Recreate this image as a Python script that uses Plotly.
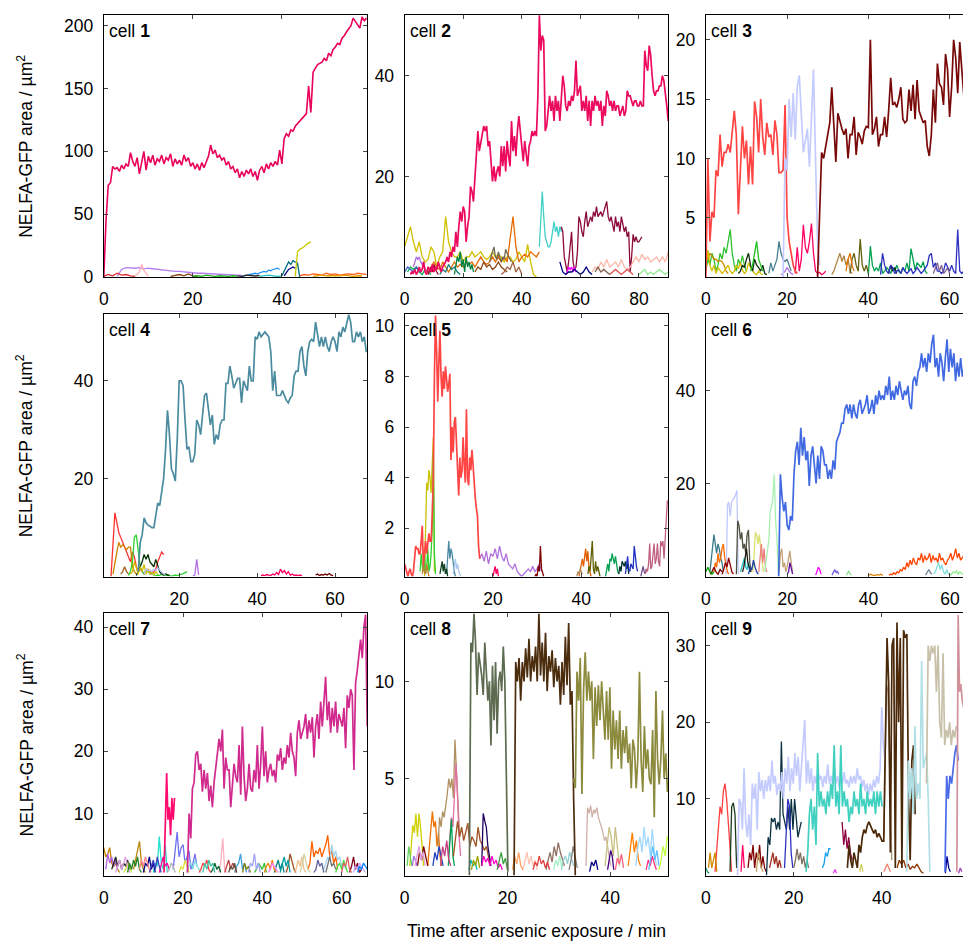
import numpy as np
import plotly.graph_objects as go

# ===================== DATA =====================
# each trace: start time (min), sampling step (min), values (um^2)

# ---- cell 1 ----
c1_main_t0, c1_main_dt = 0, 0.5
c1_main = [
 0, 45, 73, 75, 88, 86, 87, 84, 89, 86,
 90, 88, 99, 92, 88, 95, 82, 90, 100, 85,
 96, 91, 97, 89, 94, 92, 97, 90, 95, 93,
 98, 88, 94, 90, 93, 89, 97, 92, 95, 88,
 91, 86, 90, 85, 91, 87, 92, 96, 105, 98,
 101, 95, 97, 93, 95, 89, 92, 86, 88, 83,
 86, 79, 84, 80, 85, 82, 86, 80, 84, 77,
 85, 88, 83, 90, 86, 91, 88, 92, 89, 101,
 90, 110, 114, 112, 117, 116, 120, 122, 124, 126,
 128, 130, 152, 131, 163, 166, 169, 170, 171, 174,
 172, 178, 176, 181, 183, 186, 185, 190, 192, 195,
 198, 200, 206, 203, 201, 198, 207, 204, 206]
c1_small = [
 [0.5, 6, 7.5, 7, 7, 7.5, 6.5, 7, 6.5, 6, 5.5, 5, 5, 4.5, 4.5, 4, 3.5, 3.5, 3, 3, 2.8, 2.5, 2.5, 2.2, 2, 2, 1.8, 1.5, 1.2],
 [1, 2, 4, 10, 5, 3, 1],
 [0.5, 1, 1.5, 2, 2, 2.5, 3, 2.5, 3.5, 4, 4.5, 4, 5.5, 5, 6, 6.5, 7, 6],
 [1, 5, 9, 12, 10, 13, 12, 11, 0],
 [1, 4, 6, 7, 8, 7],
 [0.5, 20, 22, 23, 24, 26, 27, 28],
 [1, 2, 1.5, 2.5, 2, 1.5, 3, 2, 2.5, 1.5, 2, 2.5, 2, 3, 2.5, 2],
 [0.5, 1.5, 2, 1, 2.5, 1, 0.5],
 [0.5, 1, 0.5, 1.5, 1, 0.5, 1, 0.8, 0.5, 1, 0.5],
 [0.5, 2, 1, 3, 1.5, 2, 1, 0.5],
 [1, 0.5, 1.5, 1, 0.8, 1.2],
 [0.5, 1, 1.5, 1, 0.5, 1],
 [0.5, 1, 1.5, 1, 0.8, 1.2, 1, 1.5, 1, 0.5, 1, 0.8]]
c1_small_t0 = [3, 7, 31, 40, 40.5, 43, 44, 15, 20, 0, 30, 35, 47]
c1_small_dt = [1, 0.5, 0.5, 0.5, 0.5, 0.5, 1, 1, 1, 1, 1, 1, 1]

# ---- cell 2 ----
c2_main_t0, c2_main_dt = 2, 0.5
c2_main = [
 0.5, 1, 0.8, 1.5, 0.5, 1, 2, 1, 1.5, 3,
 1, 0.5, 2, 1.5, 1, 2.5, 1, 2, 1.5, 3,
 2, 1, 2, 2.5, 3, 4, 3, 5, 4, 6,
 5, 9, 6, 10, 13, 11, 14, 13, 7, 10,
 12, 18, 17, 15, 20, 24, 29, 25, 27, 29,
 30, 29, 30, 26, 27, 23, 19, 22, 19, 21,
 22, 20, 26, 22, 26, 21, 27, 24, 22, 31,
 25, 28, 24, 29, 32, 29, 26, 23, 27, 24,
 22, 26, 27, 29, 28, 29, 28, 36, 52, 45,
 48, 47, 29, 30, 33, 36, 33, 35, 31, 36,
 33, 35, 31, 36, 40, 38, 34, 33, 35, 34,
 36, 35, 37, 43, 36, 37, 38, 33, 35, 33,
 36, 31, 35, 30, 35, 33, 36, 34, 35, 33,
 35, 30, 34, 32, 37, 36, 34, 35, 33, 35,
 33, 34, 34, 32, 33, 34, 32, 33, 37, 36,
 36, 35, 34, 35, 35, 34, 34, 35, 34, 34,
 45, 42, 41, 46, 44, 40, 37, 36, 37, 37,
 38, 38, 40, 39, 37, 34, 31]
c2_small = [
 [6, 8, 10, 7, 5, 7, 4, 3, 3.5, 6, 5, 2, 4, 5, 12, 7, 5, 4, 4, 5, 3, 4, 4, 5, 4, 4.5, 5, 4, 3.5, 4, 5, 4, 4.5, 4, 3, 4, 4, 3, 3.5, 5, 4, 3, 6.5, 3, 0.5, 0],
 [1, 2, 3, 2, 1.5, 3, 2, 1, 2, 3, 2, 2.5, 2, 3, 2.5, 3, 2, 3, 4, 3, 2.5, 3, 4, 3, 4, 3, 4, 3, 7, 12, 6, 3, 4, 4.5, 4, 5, 4.5, 4, 5],
 [0.5, 2, 4, 3, 5, 2, 3.5, 1, 4, 2, 3, 1.5, 2.5, 1],
 [1, 2, 1.5, 2, 1, 0.5, 1.5, 1, 0.5],
 [2, 3, 4, 3.5, 4, 3, 2.5, 3, 1.5, 1],
 [3, 4, 5, 6, 4, 3.5, 5, 4, 3, 4, 3.5, 5.5, 4.5, 4, 3.5, 3],
 [1, 2, 1.5, 3, 2, 2.5, 1.5, 2, 3, 2, 1.5, 1],
 [0.5, 1.5, 2, 1, 2.5, 1.5, 1, 0.5],
 [6, 12, 17, 12, 8, 7, 6, 6, 7, 9, 11, 9, 10, 8, 10, 9],
 [10, 9, 4, 2, 1, 3, 6, 9, 3, 1.5, 2, 5, 12, 11, 9, 8, 11, 13, 10, 11, 12, 11, 13, 12, 14, 12, 12.5, 13, 12, 13, 14, 15, 12, 11, 12, 10, 9, 12, 10, 11, 9, 12, 10, 9, 10, 8, 9, 1, 4, 8.5, 7, 8, 7, 7, 7.5, 8],
 [1, 2, 1.5, 3, 2, 3.5, 2, 2.5, 3, 2, 3.5, 2, 1.5, 2, 3, 4, 3, 4.5, 3.5, 4, 3, 3.5, 4, 3, 4, 3, 5],
 [0.5, 1, 1.5, 0.5, 1, 0.5, 1, 1.5, 1, 0.5, 1],
 [0.5, 1, 2, 1.5, 2, 1, 2, 1],
 [3, 1, 0.5, 1, 1, 1.5, 1, 0.5, 1, 2, 1, 0.5],
 [0.5, 1, 1.5, 1, 0.5, 1, 1.5, 1, 0.5],
 [1, 2, 1.5, 1, 2, 1],
 [1, 2, 1, 1.5, 1, 0.5],
 [0.5, 1.5, 1, 2.5, 1.5, 2, 1, 0.5],
 [0.5, 1, 2, 1.5, 3, 1, 2, 0.5]]
c2_small_t0 = [0, 8, 17, 1, 3, 29, 24, 8, 46, 53.5, 64, 80, 55, 53, 70, 0, 65, 12, 33]
c2_small_dt = [1, 1, 0.5, 1, 0.5, 0.5, 1, 0.5, 0.5, 0.5, 1, 1, 0.5, 1, 1, 1, 1, 1, 1]

# ---- cell 3 ----
c3_red_t0, c3_red_dt = 0, 0.5
c3_red = [
 0, 10, 3, 5.5, 5, 9, 8.5, 12, 9.3, 10.5,
 10.5, 11.2, 10.5, 12, 14, 12, 5.3, 9, 12.7, 10,
 11.5, 7.8, 11, 7.8, 14.8, 13.5, 10.5, 15, 11.8, 10.3,
 13, 11.8, 12, 10.3, 13.2, 12, 8.8, 8.8, 9, 14.5,
 5, 3, 2, 1, 0.5, 0.3]
c3_lav_t0, c3_lav_dt = 19, 0.5
c3_lav = [0, 10, 9, 15, 11.8, 15.5, 11.6, 16, 17, 14, 10.5, 11.5, 12.5, 9.3, 13, 17.5, 10, 3, 1]
c3_mar_t0, c3_mar_dt = 27.5, 0.5
c3_mar = [
 0, 5, 10.5, 10, 11,
 12, 13, 16, 13, 9.7, 13.8, 13, 12.5, 12, 12.5,
 10, 12, 12, 13.5, 10.3, 12.2, 11.8, 11.2, 12.3, 12.7,
 12.6, 20, 12, 12.5, 13.5, 11, 12, 12, 13.5, 11.8,
 14, 16.8, 14.5, 14.7, 14.3, 15, 16, 13.3, 13, 13.2,
 15.8, 14, 16.2, 13.3, 16.6, 14, 13.5, 13, 13.2, 11,
 10.2, 12, 15.8, 13, 18, 16.3, 16, 14.5, 18.8, 17.5,
 13.5, 16, 20, 18.5, 15.5, 19.8, 17.5, 15.3, 16, 17]
c3_small = [
 [0.5, 1.5, 1, 2, 1.5, 0.5, 1, 2, 1.5, 2.5, 2, 3, 4, 2, 1, 0.5, 1.5, 1, 1.8, 1, 0.5],
 [2, 1.5, 2, 1.8, 1.5, 1.5, 1.3, 1.4, 1.3, 1, 0.5, 0.3],
 [1, 2.3, 1, 0.5, 1, 0.3, 0.8, 0.5, 0.3, 0.5, 0.8, 1, 0.5, 0.3, 0.5, 1, 0.7, 1.2, 0.6, 0.3, 0.5, 1.2, 0.8, 0.5, 0.3, 0.2, 0.5, 0.3, 0.2],
 [0.3, 0.5, 1, 0.8, 1.5, 2, 1, 0.5, 1.5, 1, 0.8, 0.5, 1, 0.3, 0.2],
 [0.5, 1, 2, 3, 1.5, 1, 0.5],
 [0.3, 1.2, 0.5, 1, 1.5, 3, 2, 1.5, 1.3, 1.5, 1, 0.5],
 [0.2, 0.3, 0.5, 0.8, 0.5, 0.3, 0.2],
 [0.3, 2.5, 0.5, 1.5, 4.4, 2.5, 2, 3, 4.5, 2, 0.5, 0.3, 0.4, 0.2, 0.3, 0.5],
 [0.2, 0.5, 1, 1.5, 2, 1.3, 1.8, 1, 1.5, 0.5, 0.3],
 [0.3, 1.5, 2, 1, 0.5, 3.2, 1, 0.5, 1, 0.3],
 [0.5, 1.5, 2, 1, 0.5],
 [0.2, 2.6, 1, 0.5, 0.8, 0.5, 1.2, 0.3, 0.5, 0.8, 0.6, 0.3, 0.8, 0.5, 1, 0.5, 0.3, 0.8, 0.5, 1.2, 0.5, 2.4, 1.5, 0.6, 1.2, 1, 0.8, 1.3, 0.5, 0.3],
 [0.3, 1, 0.5, 0.8, 0.3],
 [0.2, 2, 1, 0.5, 0.3, 1, 0.8, 0.3, 0.5, 0.6, 0.3, 0.8, 0.5, 0.3, 0.5, 0.7, 0.3, 0.5, 0.8, 0.5, 0.3, 0.5, 0.8, 1, 1.8, 2, 0.8, 1.2, 0.5, 0.5, 0.3, 0.5, 1.2, 0.8, 0.5, 1, 0.5, 0.3, 4, 0.5, 0.3, 0.5, 0.3, 0.2],
 [0.3, 0.8, 1.2, 0.5, 1, 0.3, 0.5, 0.8, 0.3]]
c3_small_t0 = [0, 0, 0, 8, 11, 15.5, 18.5, 22, 31, 35.5, 34.5, 40, 45, 43, 56]
c3_small_dt = [0.5] * 15

# ---- cell 4 ----
c4_main_t0, c4_main_dt = 9.5, 0.5
c4_main = [
 1, 7, 8.5, 12, 11, 10.5, 10.3, 10, 10, 13,
 15, 14.5, 17, 20, 26, 34, 29, 22, 21, 19.5,
 28, 40, 40, 39, 32, 26, 26.5, 23.5, 23.5, 25,
 32, 31, 29, 33, 37, 37.5, 34, 31, 33, 27,
 29, 28, 31, 32, 32, 39.5, 39.5, 43, 41, 38.5,
 39.5, 40.5, 40.5, 35.5, 40, 39, 38, 43, 40, 40,
 49, 48.5, 50, 49, 49.5, 50, 49.5, 49, 46, 38,
 42, 37, 37, 37, 38, 37, 36, 35.5, 36.5, 37,
 41, 42, 42, 46, 47, 43, 41, 46, 48, 48.5,
 48, 52, 49, 47, 49, 47, 49, 47, 46, 48,
 49, 48, 46, 50, 49, 51, 50, 52, 53.5, 52,
 48, 48, 50, 49, 50, 48, 49, 46, 46]
c4_small = [
 [0, 6, 13, 11, 9, 8, 7, 6, 5, 4, 3, 5, 4, 2, 1, 1.5, 1, 0.5, 1, 1.5, 1, 0.5, 1, 1.5, 3, 4, 5, 4.5],
 [0.5, 3, 5, 7, 6, 6.5, 6, 5.5, 6, 6, 2, 1, 0.5],
 [0.2, 1, 3, 8, 8.5, 5, 2, 1, 0.5, 1.5, 1, 0.5, 0.8, 0.3, 0.2, 0.3, 0.2, 0.5, 0.3, 0.2, 0.3, 0.2, 0.1, 0.2, 0.3, 0.2, 0.3, 0.5, 0.6, 0.8, 1],
 [0.2, 1, 2, 3, 4.5, 3.5, 4.5, 3, 2.5, 2, 3.5, 2, 1, 0.5, 0.3, 0.5, 0.3, 0.2],
 [0.5, 1, 3, 1.5, 0.5, 2, 1, 2.5, 0.5, 1.5, 0.5, 1, 0.3, 1, 0.5],
 [0.5, 1.5, 1.2, 1.3, 1, 1.5, 1.2, 1.8, 1.3, 0.8, 0.5, 0.3],
 [0.1, 0.3, 3.5, 0.3],
 [0.2, 0.3, 0.2, 0.4, 0.3, 0.2, 0.5, 0.3, 0.8, 0.4, 1.5, 0.8, 1.2, 0.5, 1, 0.3, 0.5, 0.2, 0.3, 0.2, 0.3, 0.2],
 [0.3, 0.5, 0.2, 0.4, 0.3, 0.5, 0.3, 0.6, 0.3, 0.2],
 [0.5, 1, 2, 1, 0.5]]
c4_small_t0 = [2.5, 3, 7, 9, 7.5, 11, 23.5, 41, 55, 5]
c4_small_dt = [0.5] * 10

# ---- cell 5 ----
c5_main_t0, c5_main_dt = 0, 0.25
c5_main = [
 0.6, 0.4, 0.2, 0.1, 0.3, 0.4, 0.2, 0.1, 0.3, 0.8,
 1.3, 1.2, 1.2, 1.0, 1.0, 1.5, 2.1, 0.5, 1.0, 1.5,
 1.0, 1.3, 1.8, 1.5, 1.5, 2.5, 4.0, 8.0, 10.4, 9.0,
 7.0, 8.5, 9.8, 8.0, 7.2, 8.2, 7.5, 8.4, 7.8, 7.4,
 7.7, 8.1, 4.7, 6.0, 5.0, 6.2, 6.4, 5.5, 4.5, 3.3,
 4.8, 4.0, 4.3, 5.6, 4.5, 3.8, 6.7, 4.0, 3.7, 4.8,
 4.3, 5.1, 4.5, 3.7, 3.2, 2.8, 2.5, 1.3, 0.8]
c5_small = [
 [0.8, 1, 0.7, 1.1, 0.6, 1, 0.9, 1.2, 0.8, 1.3, 0.9, 0.7, 1, 0.6, 0.5, 0.4, 0.6, 0.3, 0.2, 0.1, 0.2, 0.3, 0.4, 0.3, 0.5, 0.3, 0.4, 0.6, 0.3],
 [0.1, 1.5, 3.8, 3.5, 4.3, 4.0, 3.4, 4.5, 5.6, 0.3],
 [0.3, 1.0, 0.5, 0.3, 1.0, 0.2, 0.5, 1.2, 0.3, 0.5, 1.0, 2.0, 5.0, 1.0, 0.2],
 [0.2, 0.8, 1.5, 0.8, 1.2, 1.0, 0.5, 0.3, 0.1],
 [0.2, 0.5, 0.8, 0.4, 0.6, 0.3, 0.2, 0.1],
 [0.2, 0.5, 0.7, 0.3, 0.6, 0.2, 0.4, 0.1],
 [0.2, 0.5, 0.3, 0.2, 0.6, 0.3, 0.1],
 [0.1, 0.3, 0.5, 0.2, 0.4, 0.1],
 [0.1, 0.2, 0.1, 0.5, 0.3, 1.3, 0.4, 0.2, 0.1],
 [0.1, 0.3, 0.6, 0.8, 0.5, 1.0, 1.2, 0.7, 1.1, 0.4, 0.2, 0.1],
 [0.2, 0.5, 0.3, 1.0, 1.5, 0.4, 0.2, 0.7, 0.3, 0.5, 0.2, 0.1],
 [0.1, 0.3, 0.2, 0.4, 0.3, 0.2],
 [0.1, 0.3, 0.6, 0.3, 0.8, 0.7, 1.0, 0.8, 0.6, 0.9, 0.5, 0.3, 0.2],
 [0.2, 0.5, 0.3, 0.7, 0.6, 0.5, 0.7, 0.4, 0.6, 0.2],
 [0.2, 0.5, 0.9, 0.4, 0.3, 0.6, 0.5, 0.4, 1.3, 0.8, 0.5, 0.3],
 [0.1, 0.3, 0.5, 0.3, 0.2, 0.4],
 [0.2, 0.4, 0.3, 0.6, 1.4, 0.4, 0.5, 0.9, 1.4, 0.6, 0.8, 1.4, 0.7, 0.5, 1.5, 1.3, 1.5, 0.8, 1.6, 2.2, 3.1]]
c5_small_t0 = [17, 4.5, 3.5, 9.5, 11, 8, 4, 20, 29.5, 39.5, 41.5, 39, 45.5, 48.5, 50, 53.5, 54.5]
c5_small_dt = [0.5] + [0.25] * 16

# ---- cell 6 ----
c6_main_t0, c6_main_dt = 17.9, 0.418
c6_main = [
 0, 22, 17, 14, 16, 11, 10, 13, 12, 22,
 27, 29, 24, 32, 26, 30, 25, 27, 19.5, 26,
 28, 23, 20, 26, 21, 28, 27, 24, 24, 21,
 23, 21, 25, 23, 29, 30, 31, 33, 33, 36,
 37, 35, 37, 34, 37, 35, 34, 37, 38, 35,
 36, 37, 39, 35, 36, 38, 35, 39, 37, 40,
 38, 39, 38, 41, 39, 43, 38, 40, 38, 41,
 39, 42, 40, 38, 40, 39, 41, 37, 36, 42,
 43, 41, 44, 45, 48, 45, 47, 44, 48, 46,
 50, 52, 45, 47, 43, 48, 46, 42, 47, 51,
 44, 49, 45, 48, 42, 46, 43, 47, 43, 45,
 44, 47, 43, 45]
c6_small = [
 [0.5, 15.5, 16, 13, 16, 16.5, 17, 17.5, 18.5, 0.5],
 [1, 4, 6, 9, 7, 5, 7, 6, 4, 3, 1],
 [1, 3, 2, 5, 3, 4, 6, 7, 4, 2, 1, 0.5],
 [0.5, 12, 11, 8, 9.5, 6, 7, 5, 9, 10, 3, 1],
 [1, 4, 9.5, 9, 7, 9, 6, 3, 1],
 [1, 5, 7, 3, 6, 2, 1],
 [1, 3, 6, 8, 14, 15, 17, 22, 12, 8, 1, 0.5],
 [1, 5, 6, 2, 3, 1, 2, 4, 5.5, 3, 1],
 [1, 2, 3, 4, 2, 1.5, 3, 1],
 [1, 2, 4, 6, 3, 2, 1],
 [0.5, 1, 3, 1.5, 0.5],
 [0.3, 1, 2, 1.5, 0.5],
 [0.3, 1, 1.5, 0.8, 1.2, 0.5],
 [0.3, 0.8, 1.2, 0.5, 0.3],
 [0.3, 0.5, 0.4, 0.8, 0.5, 1, 0.8, 1.5, 1.2, 2, 1.5, 3, 2, 3.5, 2.5, 4, 3, 2.5, 4, 3.5, 5, 3, 4.5, 3.5, 4, 5, 3, 4.5, 3.5, 4, 3, 5, 3.5, 4, 3, 2.5, 3.5, 4, 5, 3.5, 4.5, 6, 4, 5, 3.5, 4, 4.5, 3.5, 5, 4],
 [0.5, 1, 2, 3, 1.5, 2.5, 1, 0.5, 1.5, 0.5],
 [0.3, 0.8, 1.5, 0.8, 0.5],
 [0.3, 0.5, 1, 0.8, 1.2, 0.5, 1, 0.8, 0.5, 1],
 [0.5, 1, 2, 1, 0.5, 1.5, 1],
 [1, 2, 1, 0.5, 1],
 [0.2, 0.5, 0.3, 0.2, 0.4, 0.3, 0.5, 0.2],
 [0.5, 1.5, 3, 2, 4, 2.5, 1, 0.5],
 [0.5, 2, 1.5, 3.5, 2, 1, 0.5]]
c6_small_t0 = [5, 1, 2, 7.5, 11.5, 13, 14.5, 18, 8.5, 9, 20, 27, 31, 34.5, 45, 56, 54, 60, 1, 0, 40, 4, 10.5]
c6_small_dt = [0.33] * 14 + [0.4, 0.4, 0.4, 0.4, 0.5, 0.5, 0.5, 0.4, 0.4]

# ---- cell 7 ----
c7_main_t0, c7_main_dt = 21.1, 0.42
c7_main = [
 0.5, 10, 6, 14, 15, 19.5, 20, 17, 18, 13.5,
 17, 14, 16.5, 12, 14.5, 11, 15, 17.5, 19, 22,
 20, 23.5, 14, 19, 17, 17, 11, 15, 18, 16,
 15, 21, 13, 24, 16, 12, 14, 18, 14, 13.5,
 17, 15, 21, 14, 18, 24, 16, 20, 15, 17,
 18, 16, 17, 15, 19.5, 18.5, 20.5, 17, 19, 18,
 21, 19, 23, 20, 19, 16, 23, 25, 22, 23,
 24, 26, 22, 25, 23, 25.5, 19, 24, 26, 22,
 28, 24, 29, 32, 25, 28, 23, 27, 24, 28,
 23, 26, 25, 24, 27, 20.5, 29, 27, 30, 29,
 17, 31, 33, 36, 38, 35, 40, 42, 24]
c7_pink_t0, c7_pink_dt = 15.2, 0.33
c7_pink = [0.5, 8, 16.5, 9, 11, 6.5, 12.5, 9, 12.5]
c7_small = [
 [4.5, 3, 3.5, 4.5, 2, 1.5, 2, 1, 0.5],
 [1, 2.5, 3.5, 5.5, 2, 1, 0.5],
 [1, 3.5, 2, 3, 1.5, 2.5, 1],
 [1, 2, 3, 1.5, 2.5, 1, 2, 1.5, 2.5, 1],
 [0.5, 2, 1.5, 6.3, 2, 1, 5, 0.5],
 [1, 4, 7, 3, 4.5, 5, 2, 3, 4, 1, 2, 3.5, 1.5],
 [0.5, 2, 6, 1, 0.5],
 [1, 2, 5.5, 3, 4, 3.5, 4.5, 3, 4, 5, 6.5, 3, 4, 2, 3, 1],
 [1, 2, 3, 2.5, 5, 3, 4, 2.5, 3, 1.5, 2, 1],
 [0.5, 2, 1.5, 3, 1, 2, 0.5],
 [0.5, 2, 3, 1.5, 2, 1],
 [0.5, 1.5, 2, 1, 2.5, 1.5, 1, 0.5],
 [0.5, 2, 3, 1.5, 2, 1],
 [0.5, 1, 2, 1.5, 1, 2, 0.5],
 [0.5, 1, 2, 1.5, 0.5],
 [0.5, 1.5, 2.5, 1, 2, 0.5],
 [0.5, 1.5, 3.5, 2, 1, 0.5],
 [0.5, 1.5, 2, 3.5, 1, 2, 0.5],
 [0.5, 1.5, 3, 1, 2, 0.5, 1],
 [0.5, 1, 2, 1.5, 2.5, 1, 0.5],
 [0.5, 1, 2.5, 1.5, 3, 1, 0.5],
 [0.5, 1.5, 1, 2, 1.5, 1, 0.5],
 [0.5, 1, 2, 1, 1.5, 0.5],
 [0.5, 2, 1, 1.5, 0.5],
 [0.5, 1.5, 2.5, 1, 2, 3, 1.5, 0.5],
 [0.5, 2, 1, 2.5, 1.5, 3, 1, 0.5],
 [1, 2.5, 1.5, 3, 2, 1, 0.5],
 [0.5, 1.5, 2.5, 1, 3, 1.5, 0.5],
 [0.5, 1.5, 1, 2.5, 1.5, 0.5],
 [0.5, 2, 1, 2.5, 1.5, 2, 0.5],
 [0.5, 1.5, 2.5, 1, 2, 1.5, 0.5],
 [0.5, 2, 1.5, 3.5, 1, 2, 0.5],
 [0.5, 1.5, 2, 1, 2.5, 1, 0.5],
 [0.5, 2, 3, 1.5, 2.5, 0.5],
 [0.5, 1.5, 3.5, 2, 1, 0.5],
 [0.5, 1, 2.5, 1.5, 2, 0.5],
 [0.5, 1.5, 2, 1, 2.5, 1.5, 0.5],
 [0.5, 2, 1.5, 3, 1, 0.5],
 [0.5, 1.5, 1, 2, 1.5, 1, 0.5],
 [0.5, 1, 2, 1.5, 0.5],
 [0.5, 1, 2, 1.5, 1, 0.5],
 [0.5, 1.5, 1, 2, 0.5]]
c7_small_t0 = [0, 7.5, 0.5, 2, 12.5, 17.5, 29, 51.5, 55.5, 10, 14, 21, 56, 38, 5, 43, 46, 33, 62, 24, 48, 63, 27, 35,
               3, 6, 9, 11.5, 19, 25, 30.5, 36.5, 40.5, 44.5, 49.5, 53, 58.5, 60, 64, 16, 41.5, 31.5]
c7_small_dt = [0.5] * 42

# ---- cell 8 ----
c8_gray_t0, c8_gray_dt = 12.6, 0.3
c8_gray = [0, 12, 11.5, 13.5, 12, 9.3, 11.5, 11, 10.3, 9.3, 12, 10.5, 9, 10, 6.7, 10.8, 8, 11, 7.3, 10, 10.5, 9.5, 11.8, 10, 5, 0.2]
c8_brown_t0, c8_brown_dt = 21.3, 0.322
c8_brown = [0, 11, 10, 11.2, 9, 11, 10, 11.7, 10.2, 12.2, 10, 11.3, 10.5, 11.8, 10, 13.5, 10.3, 12, 10, 12.5,
            9.5, 11.3, 10.5, 11.6, 9.7, 11.2, 10, 10.8, 8.8, 11, 9.3, 12.3, 9.8, 13, 8.8, 9.5, 4, 0]
c8_olive_t0, c8_olive_dt = 32.9, 0.32
c8_olive = [
 5, 4.5, 10.5, 9, 11.2, 4.2, 9.5, 11.5, 9, 10.5,
 9, 10, 6, 9.7, 7.7, 9.8, 8, 10, 8.5, 7,
 9.5, 7, 9.7, 5.5, 8.5, 6.5, 8, 6, 8.5, 5.5,
 7.5, 6.3, 7.7, 5.8, 6.8, 4.5, 7, 6.5, 4.5, 6,
 10.5, 6, 4.3, 7.7, 5.5, 6.5, 5, 4.7, 7.5, 3,
 9.5, 6, 4.7, 6, 8.5, 5, 6.3, 4.3, 5]
c8_small = [
 [0.5, 1.5, 2.6, 2.2, 3.2, 2, 3.2, 2.5, 1.5, 0.5],
 [0.5, 1.5, 2.2, 3.3, 2.5, 2.8, 1.5, 2.2, 1, 0.5],
 [1.5, 3, 2.5, 3.3, 3, 3.5, 4.2, 5, 4.5, 5, 4, 7, 5.5, 4, 2],
 [1, 2, 3, 2.5, 4, 5.8, 4, 2, 1],
 [0.5, 2, 2.9, 1, 0.5],
 [1, 2, 2.8, 2, 2.5, 1.8, 2.2, 2.7, 1.5, 2, 1.8, 1.5, 2.5, 1.8, 1.6, 1.3, 1.5, 1, 0.5],
 [0.5, 3.2, 2.8, 2.5, 1.5, 1, 0.5],
 [0.5, 1, 0.7, 0.9, 0.5, 1, 0.6, 0.8, 0.4, 0.6, 0.3],
 [0.3, 0.8, 1.2, 0.6, 1, 0.5, 0.8, 0.3],
 [0.3, 0.8, 1.2, 0.7, 1.5, 1, 1.7, 1.2, 0.8, 0.5],
 [0.5, 3.5, 3.2, 3.6, 3, 3.4, 3.2, 3.5, 3, 2.8, 2.5, 2.2, 1.8, 2, 1.5, 1, 0.5],
 [0.5, 1.5, 2.5, 2, 1, 2.5, 1.5, 0.5],
 [0.2, 0.7, 0.5, 0.8, 0.3],
 [0.5, 1.5, 2.2, 1.2, 1.8, 0.8, 0.5],
 [0.5, 1.5, 2, 1.2, 2.5, 1.5, 2, 1, 2.4, 1.2, 0.5],
 [0.3, 0.8, 1.5, 1, 2, 1.8],
 [0.3, 0.8, 1, 0.6, 1.2, 0.8, 0.5],
 [0.3, 0.8, 1.3, 1, 0.3],
 [0.3, 0.7, 0.5, 1, 0.6, 0.8, 0.4, 0.7, 0.3],
 [0.3, 0.8, 0.5, 0.7, 0.3],
 [0.5, 1.2, 0.8, 1.5, 1, 0.5],
 [0.5, 1.5, 1, 0.5],
 [0.3, 0.8, 0.5, 1, 0.4],
 [0.3, 0.8, 0.5, 1, 0.6, 0.3],
 [0.5, 1, 0.8, 0.5],
 [0.5, 1, 1.5, 0.8, 1.2, 0.5],
 [0.5, 1.2, 0.8, 1.5, 1, 0.5],
 [0.5, 1.5, 1, 1.8, 0.8, 0.5],
 [0.3, 0.8, 1.2, 0.6, 0.9, 0.3],
 [0.3, 1, 0.6, 1.2, 0.5, 0.3],
 [0.3, 0.8, 1.5, 1, 0.4],
 [0.3, 0.9, 0.6, 1.1, 0.4],
 [0.3, 1, 1.5, 0.8, 1.3, 0.5],
 [0.3, 0.8, 0.5, 1, 0.4]]
c8_small_t0 = [1, 4.5, 6.5, 8.5, 8.5, 9.5, 15, 15, 23, 27.5, 35.3, 39, 36, 43.5, 45, 49.5, 30.5, 39.5, 25, 12.5, 2.5, 0.5, 29, 47, 1.5,
               2, 5.5, 7, 18, 21, 32, 41, 47.5, 13]
c8_small_dt = [0.3, 0.3, 0.3, 0.3, 0.3, 0.4, 0.3, 0.4, 0.4, 0.4, 0.3, 0.4, 0.4, 0.4, 0.4, 0.4, 0.4, 0.3, 0.4, 0.4, 0.4, 0.3, 0.4, 0.4, 0.3,
               0.4, 0.4, 0.4, 0.4, 0.4, 0.4, 0.4, 0.4, 0.4]

# ---- cell 9 ----
c9_lav_t0, c9_lav_dt = 7.2, 0.373
c9_lav = [
 0, 10, 9.5, 6, 14, 7, 5, 8, 4, 12,
 10, 12, 6, 13.5, 11, 12.5, 10, 12.5, 11, 13,
 11, 15, 12, 13, 10.5, 12, 11, 13.5, 10, 14,
 12, 15.5, 11, 14, 12, 16, 13, 15.5, 11, 14,
 16, 20.3, 12, 15, 12, 14, 11, 13, 12, 14,
 12.5, 13, 11.5, 13, 12, 14.5, 12, 13, 12, 14,
 12, 13, 11.5, 13, 12, 13.5, 12, 12.5, 11.5, 13,
 12, 13, 12, 14, 12.5, 13, 11.5, 12.5, 11, 12,
 10.5, 12, 11, 12.5, 11.5, 13, 12, 14, 22, 17, 15]
c9_turq_t0, c9_turq_dt = 22.8, 0.376
c9_turq = [
 0.5, 3, 8, 10, 6, 9, 4, 16, 9, 11,
 9, 10, 8, 11, 9, 12, 10, 17, 9, 11,
 8, 17, 9, 11, 9, 10, 7, 9, 8, 11,
 9, 10, 8, 12, 9, 10, 8, 11, 9, 10,
 9, 11, 8, 11, 9, 11, 9]
c9_brown_t0, c9_brown_dt = 32.2, 0.376
c9_brown = [
 1, 4, 2, 1, 3, 2, 1, 4, 3, 5,
 6, 5.5, 6.5, 7, 6.5, 6, 5.5, 6, 5, 5.5,
 5, 4.5, 4.5, 20, 31, 25, 3, 30, 31, 1,
 33, 20, 31, 1, 32, 31, 31.5, 10, 2, 15,
 17, 8]
c9_cyan_t0, c9_cyan_dt = 45.7, 0.376
c9_cyan = [0.5, 15, 10, 14, 8, 19.5, 10, 12, 10, 28, 14, 15, 16, 10, 0.5]
c9_khaki_t0, c9_khaki_dt = 50.2, 0.376
c9_khaki = [12, 30, 28, 30, 29, 30, 24, 30, 20, 18, 29, 17, 19, 18, 20, 17, 19, 18, 19.5]
c9_blue_t0, c9_blue_dt = 54.4, 0.376
c9_blue = [0.5, 13, 10, 13, 12, 14, 16, 17, 15]
c9_rose_t0, c9_rose_dt = 57.1, 0.3
c9_rose = [0.5, 34, 24, 25, 23, 22]
c9_small = [
 [5, 15, 25, 24, 15, 8, 2],
 [0.5, 3, 6, 9, 8, 11, 12, 10, 7, 3, 0.5],
 [0.5, 9, 9.5, 8, 1],
 [1, 3, 1, 2, 3, 0.5],
 [0.5, 4, 1],
 [1, 3, 2, 4, 1, 3, 2, 4, 1, 2.5, 1, 0.5],
 [0.5, 3, 2, 1, 0.5],
 [0, 5, 4, 7.5, 7, 7.5, 6, 7, 6, 17.5, 8, 7, 6, 9, 6, 10, 6, 10, 7, 5, 6, 7],
 [1, 6, 10, 9, 3, 1],
 [1, 2, 3, 1.5, 2.5, 1, 2, 1],
 [1, 2, 3.5, 2, 3, 1.5, 2.5, 1, 2, 1],
 [1, 1.5, 3, 2.5, 3.5, 3.5],
 [7, 4, 6, 3.5, 5, 3, 2],
 [0.5, 1.5, 0.5],
 [1, 2, 1.5, 2, 1, 1.5, 0.8, 1.2, 1, 1.5, 1, 0.5, 0.3],
 [0.5, 1, 1.5, 1, 0.5],
 [0.3, 2.5, 1, 0.5],
 [1, 0.5, 0.3],
 [0.3, 1, 0.5],
 [0.3, 0.8, 0.3]]
c9_small_t0 = [40.5, 2.1, 5.5, 0.6, 8, 9.6, 11.5, 13.8, 17.9, 14.5, 20, 26.5, 31, 35, 43.5, 40.5, 54.5, 0, 57.5, 29]
c9_small_dt = [0.3] + [0.376] * 13 + [0.5] + [0.376] * 5

# tick labels / axis ranges per panel
x_ticks = [[0, 20, 40], [0, 20, 40, 60, 80], [0, 20, 40, 60],
           [20, 40, 60], [0, 20, 40], [0, 20, 40, 60],
           [0, 20, 40, 60], [0, 20, 40], [0, 20, 40]]
y_ticks = [[0, 50, 100, 150, 200], [20, 40], [5, 10, 15, 20],
           [20, 40], [2, 4, 6, 8, 10], [20, 40],
           [10, 20, 30, 40], [5, 10], [10, 20, 30]]
x_ranges = [[0, 59.2], [0, 90], [0, 63.3], [0.65, 68.3], [0, 59.7], [0, 63.2],
            [0, 66.5], [0, 51.3], [0, 58.5]]
y_ranges = [[0, 208.6], [0, 52.1], [0, 22.1], [0, 53.6], [0.1, 10.45], [0, 56.4],
            [0, 42.2], [0, 13.5], [0, 34.2]]

# ===================== STYLES =====================
c1_col = ["#b57ef0", "#ffb0b8", "#1e8ff0", "#006a80", "#00008b", "#c8c800", "#ff6020",
          "#8b4513", "#20b020", "#e03030", "#303030", "#20c0c0", "#e0a000"]
c2_col = ["#d0c000", "#e86a00", "#008040", "#00b050", "#b070e0", "#706a50", "#8b4513", "#a00020",
          "#40d0c8", "#8b0a3a", "#ffb8a8", "#90ee90", "#ff00ff", "#000080", "#e05050", "#4060c0", "#806050",
          "#1a7a7a", "#a06040"]
c3_col = ["#30c030", "#d08800", "#d0c000", "#103010", "#20c020", "#4a8090", "#b070e0", "#ff0060",
          "#b08040", "#606010", "#e07000", "#00a050", "#102020", "#2a30c0", "#806090"]
c4_col = ["#ff3030", "#d08000", "#30d030", "#003000", "#d0c000", "#b8c0ff", "#b070e0", "#ff0060",
          "#700000", "#a06020"]
c5_col = ["#b070e0", "#c8c000", "#30d030", "#4a8aa0", "#a8c8f0", "#104020", "#c08030", "#ff0060",
          "#800000", "#e06000", "#606000", "#b09060", "#00a050", "#003030", "#2030c0", "#705090", "#c06080"]
c6_col = ["#c0c8ff", "#3a7a8a", "#ff6a00", "#505040", "#d8e070", "#f08080", "#a8f0b0", "#c0a070",
          "#20c0c0", "#201810", "#6010a0", "#ff00ff", "#7060e0", "#90e090", "#ff4500", "#80e0e0",
          "#708090", "#90ee90", "#800000", "#00a000", "#e08000", "#8b0000", "#2040a0"]
c7_col = ["#c08000", "#b8860b", "#b060e0", "#202020", "#20e0d0", "#7070f0", "#ffb0c0", "#ff6000",
          "#a0d0f0", "#000080", "#ff00a0", "#80e0e0", "#707070", "#30c030", "#c0e040", "#008080",
          "#a05020", "#40a0e0", "#800020", "#ff4040", "#f0c090", "#c8a0f0", "#006030", "#808000",
          "#e0a0e0", "#208020", "#ff8080", "#4040c0", "#e0e040", "#40c0a0", "#c04040", "#a0a0ff",
          "#f08000", "#00a0a0", "#d0d0a0", "#6060a0", "#40e040", "#e06060", "#0080ff", "#b0b0b0",
          "#ff80ff", "#605040"]
c8_col = ["#d0d000", "#f07000", "#b09060", "#e070a0", "#00a050", "#a05020", "#200060", "#ff00c0",
          "#ffc0b0", "#907060", "#d0b0a8", "#c8c080", "#000080", "#ff8000", "#a0d8ff", "#c0ff40",
          "#90d0d0", "#400080", "#e04040", "#00c0c0", "#800000", "#60d060", "#a0f0c0", "#ff3080", "#a070e0",
          "#e0a0e0", "#2040c0", "#c04080", "#40a040", "#ffa060", "#808080", "#ff6080", "#60c0ff", "#a0a000"]
c9_col = ["#a09078", "#ff4040", "#1a3a1a", "#d08a00", "#ff0060", "#800000", "#c0a060", "#0a3040",
          "#3030c0", "#a03020", "#807060", "#10a0f0", "#900040", "#d0d060", "#8b3000", "#f08070",
          "#000090", "#20a060", "#a040c0", "#e040e0"]

FONT = "Liberation Sans, Arial, Helvetica, sans-serif"
FS = 17.5
W, H = 963, 941
col_left = [99.3, 401.7, 704.5]
row_top = [15, 317.7, 620]
PW = PH = 265
SMALL_W = 1.3
MAIN_W = 1.7

fig = go.Figure()


def add(p, t0, dt, vals, color, width):
    t = t0 + dt * np.arange(len(vals))
    fig.add_trace(go.Scatter(x=t, y=vals, mode="lines",
                             line=dict(color=color, width=width),
                             xaxis="x" if p == 1 else f"x{p}",
                             yaxis="y" if p == 1 else f"y{p}",
                             showlegend=False, hoverinfo="skip"))


def add_small(p, vals_list, t0s, dts, cols):
    for v, a, d, c in zip(vals_list, t0s, dts, cols):
        add(p, a, d, v, c, SMALL_W)


add_small(1, c1_small, c1_small_t0, c1_small_dt, c1_col)
add(1, c1_main_t0, c1_main_dt, c1_main, "#e8005a", 1.6)
add_small(2, c2_small, c2_small_t0, c2_small_dt, c2_col)
add(2, c2_main_t0, c2_main_dt, c2_main, "#ec0a5e", MAIN_W)
add_small(3, c3_small, c3_small_t0, c3_small_dt, c3_col)
add(3, c3_red_t0, c3_red_dt, c3_red, "#ff4444", MAIN_W)
add(3, c3_lav_t0, c3_lav_dt, c3_lav, "#c4ccff", MAIN_W)
add(3, c3_mar_t0, c3_mar_dt, c3_mar, "#780808", MAIN_W)
add_small(4, c4_small, c4_small_t0, c4_small_dt, c4_col)
add(4, c4_main_t0, c4_main_dt, c4_main, "#4b8b9f", MAIN_W)
add_small(5, c5_small, c5_small_t0, c5_small_dt, c5_col)
add(5, c5_main_t0, c5_main_dt, c5_main, "#ff4444", MAIN_W)
add_small(6, c6_small, c6_small_t0, c6_small_dt, c6_col)
add(6, c6_main_t0, c6_main_dt, c6_main, "#4169e1", MAIN_W)
add_small(7, c7_small, c7_small_t0, c7_small_dt, c7_col)
add(7, c7_pink_t0, c7_pink_dt, c7_pink, "#ff0a6e", MAIN_W)
add(7, c7_main_t0, c7_main_dt, c7_main, "#d02a8e", MAIN_W)
add_small(8, c8_small, c8_small_t0, c8_small_dt, c8_col)
add(8, c8_gray_t0, c8_gray_dt, c8_gray, "#5d6b50", MAIN_W)
add(8, c8_brown_t0, c8_brown_dt, c8_brown, "#4b2c0c", MAIN_W)
add(8, c8_olive_t0, c8_olive_dt, c8_olive, "#8c8a3c", MAIN_W)
add_small(9, c9_small, c9_small_t0, c9_small_dt, c9_col)
add(9, c9_lav_t0, c9_lav_dt, c9_lav, "#c4ccff", MAIN_W)
add(9, c9_turq_t0, c9_turq_dt, c9_turq, "#40d0c0", MAIN_W)
add(9, c9_brown_t0, c9_brown_dt, c9_brown, "#4a2808", MAIN_W)
add(9, c9_cyan_t0, c9_cyan_dt, c9_cyan, "#b0e0e6", MAIN_W)
add(9, c9_khaki_t0, c9_khaki_dt, c9_khaki, "#c8c0a8", MAIN_W)
add(9, c9_blue_t0, c9_blue_dt, c9_blue, "#4a6ae8", MAIN_W)
add(9, c9_rose_t0, c9_rose_dt, c9_rose, "#d0909a", MAIN_W)

layout = dict(width=W, height=H, margin=dict(l=0, r=0, t=0, b=0),
              paper_bgcolor="white", plot_bgcolor="white", showlegend=False,
              font=dict(family=FONT, size=FS, color="black"))
annotations = []
for i in range(9):
    p = i + 1
    r, c = divmod(i, 3)
    x0 = col_left[c] / W
    x1 = min(col_left[c] + PW, W) / W
    y1 = (H - row_top[r]) / H
    y0 = (H - row_top[r] - PH) / H
    sfx = "" if p == 1 else str(p)
    axis_common = dict(showline=True, linecolor="black", linewidth=1, showgrid=False,
                       zeroline=False, ticks="inside", ticklen=4, tickwidth=1,
                       tickcolor="#444", tickfont=dict(family=FONT, size=FS, color="black"))
    layout["xaxis" + sfx] = dict(domain=[x0, x1], range=x_ranges[i], tickvals=x_ticks[i],
                                 anchor="y" + sfx, mirror="allticks", ticklabelstandoff=6,
                                 **axis_common)
    layout["yaxis" + sfx] = dict(domain=[y0, y1], range=y_ranges[i], tickvals=y_ticks[i],
                                 anchor="x" + sfx, mirror=("allticks" if c < 2 else False),
                                 ticklabelstandoff=6, **axis_common)
    annotations.append(dict(text=f"cell <b>{p}</b>", xref="paper", yref="paper",
                            x=(col_left[c] + 3) / W, y=(H - row_top[r] - 16) / H,
                            xanchor="left", yanchor="middle", showarrow=False,
                            font=dict(family=FONT, size=FS, color="black")))
for r in range(3):
    annotations.append(dict(text="NELFA-GFP area / µm<sup>2</sup>", xref="paper", yref="paper",
                            x=20 / W, y=(H - row_top[r] - PH / 2) / H, textangle=-90,
                            xanchor="center", yanchor="middle", showarrow=False,
                            font=dict(family=FONT, size=FS, color="black")))
annotations.append(dict(text="Time after arsenic exposure / min", xref="paper", yref="paper",
                        x=534 / W, y=(H - 941) / H, xanchor="center", yanchor="middle",
                        showarrow=False, font=dict(family=FONT, size=FS, color="black")))
layout["annotations"] = annotations
fig.update_layout(**layout)
fig.write_html("out.html", config={"displayModeBar": False},
               post_script="document.body.style.margin='0';document.body.style.padding='0';"
                           "document.body.style.overflow='hidden';")
